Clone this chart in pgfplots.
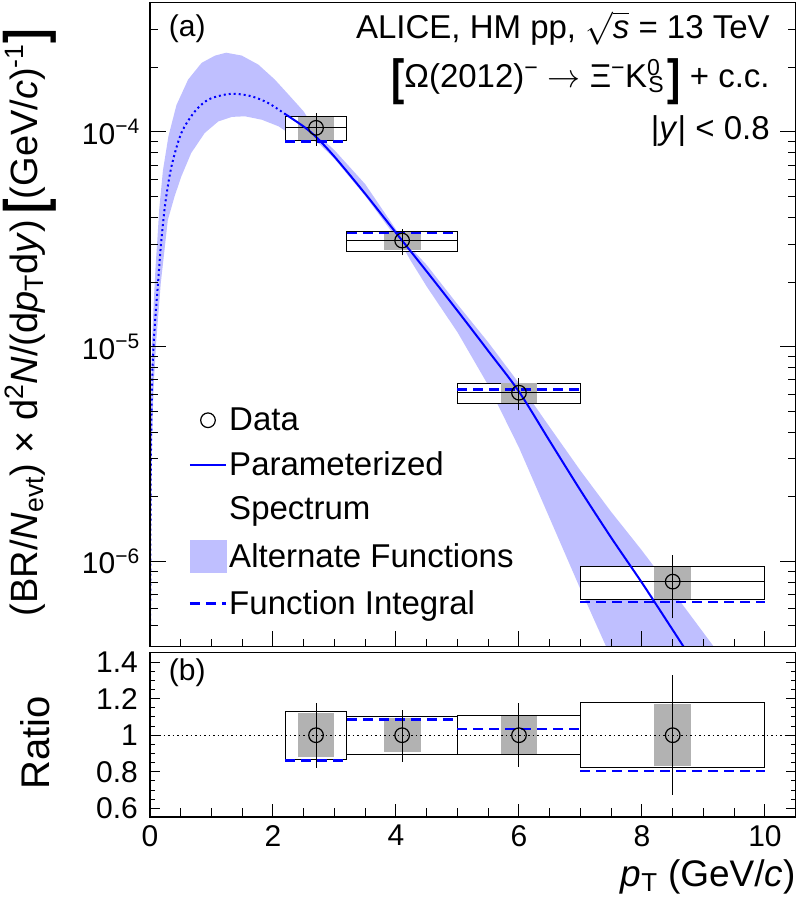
\RequirePackage{fix-cm}
\documentclass[border=0pt]{standalone}
\usepackage{pgfplots}
\pgfplotsset{compat=1.18}
\usepackage{graphicx}
\usepackage{fontspec}
\setmainfont{Liberation Sans}
\definecolor{bandblue}{RGB}{191,191,255}
\definecolor{sysgray}{RGB}{178,178,178}
\definecolor{fblue}{RGB}{0,0,255}
\pgfplotsset{
  common/.style={
    scale only axis, width=645.7bp, xmin=0, xmax=10.5,
    axis on top, tick align=inside,
    axis line style={line width=1.2bp},
    tick style={line width=1bp, black},
    xtick pos=left, ytick pos=both,
    xtick={0,2,4,6,8,10},
    minor xtick={0.5,1,1.5,2.5,3,3.5,4.5,5,5.5,6.5,7,7.5,8.5,9,9.5},
    legend image code/.code={\draw[mark repeat=2,mark phase=2,##1] plot coordinates {(0bp,0bp) (18bp,0bp) (36bp,0bp)};},
  },
}
\begin{document}
\begin{tikzpicture}
\path[use as bounding box] (0,0) rectangle (798bp,913bp);
% ---------------- top panel ----------------
\begin{axis}[common,
  at={(150bp,266.3bp)}, anchor=south west, height=644bp,
  ymode=log, ymin=4e-7, ymax=4e-4,
  xticklabels={},
  ytick={1e-6,1e-5,1e-4},
  yticklabels={10\textsuperscript{−6},10\textsuperscript{−5},10\textsuperscript{−4}},
  minor ytick={4e-7,5e-7,6e-7,7e-7,8e-7,9e-7,2e-6,3e-6,4e-6,5e-6,6e-6,7e-6,8e-6,9e-6,2e-5,3e-5,4e-5,5e-5,6e-5,7e-5,8e-5,9e-5,2e-4,3e-4},
  major tick length=16bp, minor tick length=8bp,
  yticklabel style={font=\fontsize{30bp}{36bp}\selectfont, inner sep=0pt, xshift=-10bp},
  ylabel={(BR/\textit{N}\textsubscript{evt}) × d\textsuperscript{2}\textit{N}/(d\textit{p}\textsubscript{T}d\textit{y})\,\raisebox{-0.2em}{\scalebox{1.15}[1.5]{\textbf{[}}}(GeV/\textit{c})\textsuperscript{-1}\raisebox{-0.2em}{\scalebox{1.15}[1.5]{\textbf{]}}}},
  ylabel style={at={(axis description cs:-0.144,0.503)}, anchor=south, inner sep=0pt, font=\fontsize{38bp}{46bp}\selectfont},
  legend style={at={(axis description cs:0.06,0.372)}, anchor=north west,
    draw=none, fill=none, inner sep=0pt, outer sep=0pt,
    font=\fontsize{33bp}{40bp}\selectfont, row sep=17.5bp,
    nodes={inner sep=1bp},
    /tikz/every odd column/.append style={column sep=1bp}},
  legend cell align=left,
]
% band of alternate functions
\addplot[fill=bandblue, draw=none, forget plot] coordinates {
(0.005,2.51e-6) (0.03,1.0e-5) (0.06,1.585e-5) (0.09,2.344e-5) (0.12,3.162e-5) (0.15,4.365e-5) (0.21,6.607e-5) (0.30,9.55e-5) (0.43,1.334e-4) (0.62,1.754e-4) (0.84,2.099e-4) (1.06,2.270e-4) (1.24,2.339e-4) (1.49,2.270e-4) (1.76,2.061e-4) (2.03,1.754e-4) (2.30,1.442e-4) (2.50,1.245e-4) (2.75,9.55e-5) (3.0,8.22e-5) (3.5,5.71e-5) (3.8,4.266e-5) (4.1,3.184e-5) (4.5,2.399e-5) (5.0,1.574e-5) (5.5,1.047e-5) (6.0,6.76e-6) (6.5,4.217e-6) (7.0,2.642e-6) (7.5,1.698e-6) (8.0,1.122e-6) (8.5,7.24e-7) (9.0,4.645e-7) (9.5,2.985e-7)
(8.0,1.738e-7) (7.5,3.548e-7) (7.0,7.41e-7) (6.5,1.585e-6) (6.0,3.388e-6) (5.5,6.607e-6) (5.0,1.167e-5) (4.5,1.905e-5) (4.24,2.512e-5) (4.1,2.951e-5) (3.5,5.035e-5) (3.0,7.50e-5) (2.75,8.81e-5) (2.6,9.33e-5) (2.36,9.44e-5) (2.09,1.062e-4) (1.82,1.14e-4) (1.54,1.183e-4) (1.33,1.175e-4) (1.11,1.119e-4) (0.89,9.89e-5) (0.67,7.98e-5) (0.51,6.21e-5) (0.40,5.012e-5) (0.29,3.89e-5) (0.175,1.972e-5) (0.10,1.047e-5) (0.06,6.607e-6) (0.03,3.548e-6) (0.005,6.31e-7)
} --cycle;
% systematic boxes (white) with outline
\addplot[fill=white, draw=black, line width=1bp, forget plot] coordinates {(2.2,9.08e-5) (3.2,9.08e-5) (3.2,1.18e-4) (2.2,1.18e-4)} --cycle;
\addplot[fill=white, draw=black, line width=1bp, forget plot] coordinates {(3.2,2.783e-5) (5.0,2.783e-5) (5.0,3.432e-5) (3.2,3.432e-5)} --cycle;
\addplot[fill=white, draw=black, line width=1bp, forget plot] coordinates {(5.0,5.44e-6) (7.0,5.44e-6) (7.0,6.75e-6) (5.0,6.75e-6)} --cycle;
\addplot[fill=white, draw=black, line width=1bp, forget plot] coordinates {(7.0,6.63e-7) (10.0,6.63e-7) (10.0,9.47e-7) (7.0,9.47e-7)} --cycle;
% uncorrelated systematics (gray)
\addplot[fill=sysgray, draw=none, forget plot] coordinates {(2.4,9.2e-5) (3.0,9.2e-5) (3.0,1.170e-4) (2.4,1.170e-4)} --cycle;
\addplot[fill=sysgray, draw=none, forget plot] coordinates {(3.8,2.81e-5) (4.4,2.81e-5) (4.4,3.416e-5) (3.8,3.416e-5)} --cycle;
\addplot[fill=sysgray, draw=none, forget plot] coordinates {(5.7,5.47e-6) (6.3,5.47e-6) (6.3,6.74e-6) (5.7,6.74e-6)} --cycle;
\addplot[fill=sysgray, draw=none, forget plot] coordinates {(8.2,6.67e-7) (8.8,6.67e-7) (8.8,9.43e-7) (8.2,9.43e-7)} --cycle;
% bin centre lines
\addplot[black, line width=1bp, forget plot] coordinates {(2.2,1.045e-4) (3.2,1.045e-4)};
\addplot[black, line width=1bp, forget plot] coordinates {(3.2,3.12e-5) (5.0,3.12e-5)};
\addplot[black, line width=1bp, forget plot] coordinates {(5.0,6.1e-6) (7.0,6.1e-6)};
\addplot[black, line width=1bp, forget plot] coordinates {(7.0,8.04e-7) (10.0,8.04e-7)};
% parameterized spectrum: dotted (extrapolated) and solid
\addplot[fblue, line width=2bp, dash pattern=on 2bp off 3bp, smooth, forget plot] coordinates {
(0.003,5.01e-7) (0.01,2.04e-6) (0.02,3.98e-6) (0.04,7.94e-6) (0.077,1.24e-5) (0.13,1.97e-5) (0.18,3.03e-5) (0.25,4.68e-5) (0.35,6.92e-5) (0.51,9.89e-5) (0.73,1.247e-4) (0.95,1.416e-4) (1.22,1.493e-4) (1.41,1.503e-4) (1.65,1.466e-4) (1.92,1.365e-4) (2.21,1.205e-4)};
\addplot[fblue, line width=2bp, smooth, forget plot] coordinates {
(2.21,1.205e-4) (2.5,1.059e-4) (2.7,9.48e-5) (3.0,7.67e-5) (3.5,5.15e-5) (4.0,3.39e-5) (4.5,2.239e-5) (5.0,1.469e-5) (5.5,9.55e-6) (6.0,6.17e-6) (6.5,3.63e-6) (7.0,2.14e-6) (7.5,1.288e-6) (8.0,7.94e-7) (8.5,4.79e-7) (9.0,2.88e-7)};
% function integral
\addplot[fblue, line width=2.5bp, dash pattern=on 10bp off 6bp, forget plot] coordinates {(2.2,9.01e-5) (3.2,9.01e-5)};
\addplot[fblue, line width=2.5bp, dash pattern=on 10bp off 6bp, forget plot] coordinates {(3.2,3.39e-5) (5.0,3.39e-5)};
\addplot[fblue, line width=2.5bp, dash pattern=on 10bp off 6bp, forget plot] coordinates {(5.0,6.30e-6) (7.0,6.30e-6)};
\addplot[fblue, line width=2.5bp, dash pattern=on 10bp off 6bp, forget plot] coordinates {(7.0,6.47e-7) (10.0,6.47e-7)};
% statistical error bars
\addplot[black, line width=1bp, forget plot] coordinates {(2.7,8.6e-5) (2.7,1.231e-4)};
\addplot[black, line width=1bp, forget plot] coordinates {(4.1,2.67e-5) (4.1,3.55e-5)};
\addplot[black, line width=1bp, forget plot] coordinates {(6.0,5.05e-6) (6.0,7.17e-6)};
\addplot[black, line width=1bp, forget plot] coordinates {(8.5,5.42e-7) (8.5,1.069e-6)};
% data points
\addplot[only marks, mark=o, mark size=7.3bp, black, mark options={line width=1.2bp}, forget plot] coordinates {(2.7,1.045e-4) (4.1,3.12e-5) (6.0,6.1e-6) (8.5,8.04e-7)};
% legend
\addlegendimage{only marks, mark=o, mark size=7.3bp, black, mark options={line width=1.2bp}}
\addlegendentry{Data}
\addlegendimage{fblue, line width=2bp}
\addlegendentry{Parameterized}
\addlegendimage{empty legend}
\addlegendentry{Spectrum}
\addlegendimage{legend image code/.code={\fill[bandblue] (0bp,-16bp) rectangle (36bp,16bp);}}
\addlegendentry{Alternate Functions}
\addlegendimage{fblue, line width=2.5bp, dash pattern=on 10bp off 6bp}
\addlegendentry{Function Integral}
% annotations
\node[anchor=base west, inner sep=0pt, font=\fontsize{30bp}{36bp}\selectfont] at (axis description cs:0.029,0.948) {(a)};
\node[anchor=base east, inner sep=0pt, font=\fontsize{33bp}{39bp}\selectfont] at (axis description cs:0.960,0.944) {ALICE, HM pp, \smash{$\sqrt{\mbox{\textit{s}}}$} = 13 TeV};
\node[anchor=base east, inner sep=0pt, font=\fontsize{33bp}{39bp}\selectfont] at (axis description cs:0.960,0.868) {\raisebox{-0.2em}{\scalebox{1.2}[1.5]{\textbf{[}}}Ω(2012)\textsuperscript{−} $\rightarrow$ Ξ\textsuperscript{−}K\textsuperscript{0}\kern-0.37em\textsubscript{S}\kern0.1em\raisebox{-0.2em}{\scalebox{1.2}[1.5]{\textbf{]}}} + c.c.};
\node[anchor=base east, inner sep=0pt, font=\fontsize{33bp}{39bp}\selectfont] at (axis description cs:0.960,0.787) {|\textit{y}| < 0.8};
\end{axis}
% ---------------- ratio panel ----------------
\begin{axis}[common,
  at={(150bp,96bp)}, anchor=south west, height=164.3bp,
  ymin=0.553, ymax=1.451,
  xticklabels={0,2,4,6,8,10},
  ytick={0.6,0.8,1,1.2,1.4},
  yticklabels={0.6,0.8,1,1.2,1.4},
  minor ytick={0.65,0.7,0.75,0.85,0.9,0.95,1.05,1.1,1.15,1.25,1.3,1.35,1.45},
  major tick length=10bp, minor tick length=5bp,
  major x tick style={/pgfplots/major tick length=13bp},
  minor x tick style={/pgfplots/minor tick length=9bp},
  xticklabel style={font=\fontsize{30bp}{36bp}\selectfont, inner sep=0pt, yshift=-8bp},
  yticklabel style={font=\fontsize{30bp}{36bp}\selectfont, inner sep=0pt, xshift=-12bp},
  xlabel={\textit{p}\textsubscript{T} (GeV/\textit{c})},
  xlabel style={at={(axis description cs:1,0)}, anchor=north east, inner sep=0pt, yshift=-42bp, font=\fontsize{37bp}{44bp}\selectfont},
  ylabel={Ratio},
  ylabel style={at={(axis description cs:-0.155,0.45)}, anchor=south, inner sep=0pt, font=\fontsize{40bp}{48bp}\selectfont},
]
\addplot[fill=white, draw=black, line width=1bp, forget plot] coordinates {(2.2,0.869) (3.2,0.869) (3.2,1.129) (2.2,1.129)} --cycle;
\addplot[fill=white, draw=black, line width=1bp, forget plot] coordinates {(3.2,0.892) (5.0,0.892) (5.0,1.100) (3.2,1.100)} --cycle;
\addplot[fill=white, draw=black, line width=1bp, forget plot] coordinates {(5.0,0.892) (7.0,0.892) (7.0,1.107) (5.0,1.107)} --cycle;
\addplot[fill=white, draw=black, line width=1bp, forget plot] coordinates {(7.0,0.825) (10.0,0.825) (10.0,1.178) (7.0,1.178)} --cycle;
\addplot[fill=sysgray, draw=none, forget plot] coordinates {(2.4,0.880) (3.0,0.880) (3.0,1.120) (2.4,1.120)} --cycle;
\addplot[fill=sysgray, draw=none, forget plot] coordinates {(3.8,0.907) (4.4,0.907) (4.4,1.093) (3.8,1.093)} --cycle;
\addplot[fill=sysgray, draw=none, forget plot] coordinates {(5.7,0.896) (6.3,0.896) (6.3,1.104) (5.7,1.104)} --cycle;
\addplot[fill=sysgray, draw=none, forget plot] coordinates {(8.2,0.830) (8.8,0.830) (8.8,1.173) (8.2,1.173)} --cycle;
\addplot[black, line width=1bp, dash pattern=on 1.5bp off 3bp, forget plot] coordinates {(0,1) (10.5,1)};
\addplot[fblue, line width=2.5bp, dash pattern=on 10bp off 6bp, forget plot] coordinates {(2.2,0.862) (3.2,0.862)};
\addplot[fblue, line width=2.5bp, dash pattern=on 10bp off 6bp, forget plot] coordinates {(3.2,1.087) (5.0,1.087)};
\addplot[fblue, line width=2.5bp, dash pattern=on 10bp off 6bp, forget plot] coordinates {(5.0,1.033) (7.0,1.033)};
\addplot[fblue, line width=2.5bp, dash pattern=on 10bp off 6bp, forget plot] coordinates {(7.0,0.805) (10.0,0.805)};
\addplot[black, line width=1bp, forget plot] coordinates {(2.7,0.823) (2.7,1.178)};
\addplot[black, line width=1bp, forget plot] coordinates {(4.1,0.856) (4.1,1.138)};
\addplot[black, line width=1bp, forget plot] coordinates {(6.0,0.828) (6.0,1.175)};
\addplot[black, line width=1bp, forget plot] coordinates {(8.5,0.674) (8.5,1.330)};
\addplot[only marks, mark=o, mark size=7.3bp, black, mark options={line width=1.2bp}, forget plot] coordinates {(2.7,1) (4.1,1) (6.0,1) (8.5,1)};
\node[anchor=base west, inner sep=0pt, font=\fontsize{30bp}{36bp}\selectfont] at (axis description cs:0.029,0.828) {(b)};
\end{axis}
\end{tikzpicture}
\end{document}
